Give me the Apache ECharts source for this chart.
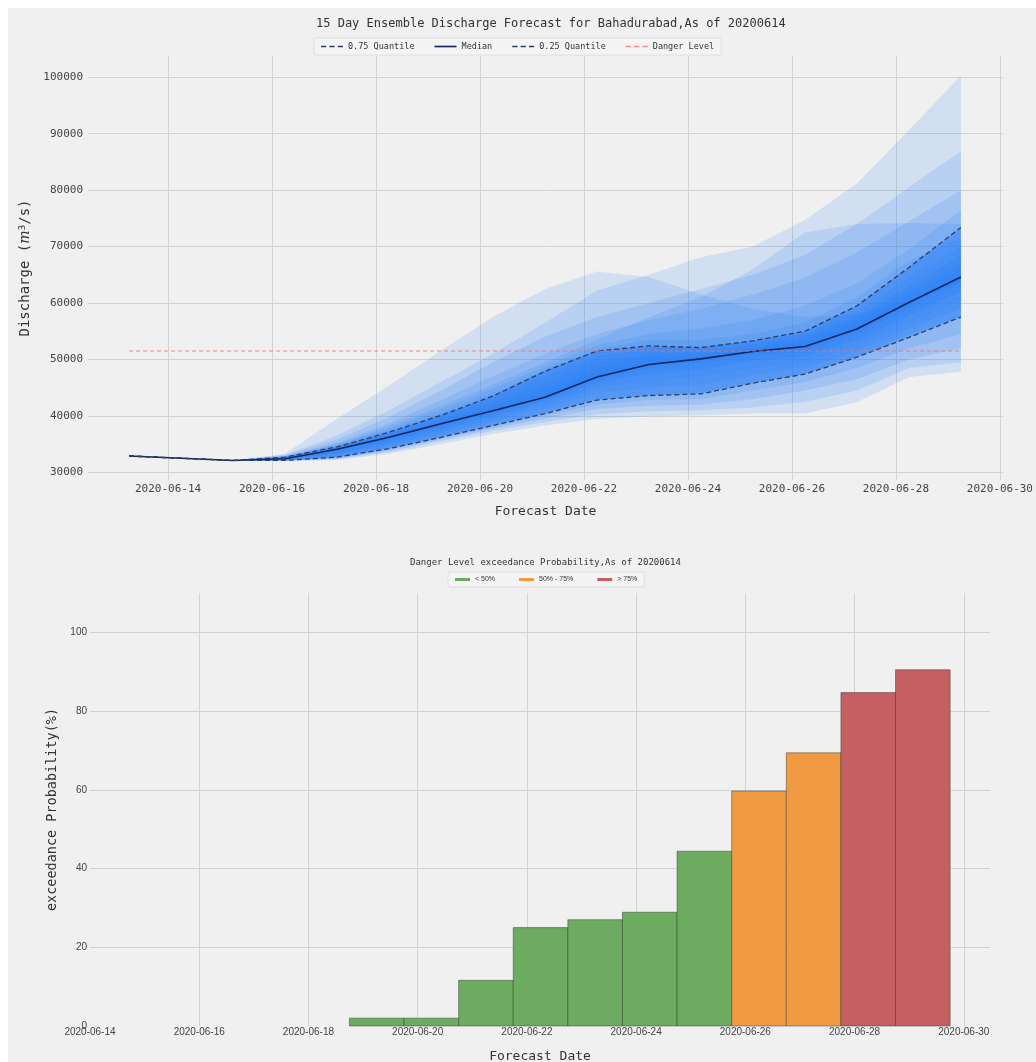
<!DOCTYPE html>
<html>
<head>
<meta charset="utf-8">
<script src="https://cdn.jsdelivr.net/npm/echarts@6/dist/echarts.min.js"></script>
<style>
  html, body { margin: 0; padding: 0; background: #ffffff; }
  #chart { width: 1036px; height: 1062px; }
</style>
</head>
<body>
<div id="chart"></div>
<script>
// ---------- forecast data (Bahadurabad, issued 2020-06-14) ----------
const forecastTimes = [
  '2020-06-13 06:00', '2020-06-14 06:00', '2020-06-15 06:00', '2020-06-16 06:00',
  '2020-06-17 06:00', '2020-06-18 06:00', '2020-06-19 06:00', '2020-06-20 06:00',
  '2020-06-21 06:00', '2020-06-22 06:00', '2020-06-23 06:00', '2020-06-24 06:00',
  '2020-06-25 06:00', '2020-06-26 06:00', '2020-06-27 06:00', '2020-06-28 06:00',
  '2020-06-29 06:00'
];

const medianFlow = [32900, 32500, 32100, 32400, 34100, 36200, 38600, 40900, 43300, 46900, 49100, 50100, 51400, 52300, 55400, 60100, 64600];
const q75Flow    = [32900, 32500, 32100, 32700, 34500, 37100, 40100, 43500, 47900, 51500, 52400, 52100, 53300, 55000, 59500, 66300, 73400];
const q25Flow    = [32900, 32500, 32100, 32100, 32700, 34200, 36200, 38300, 40400, 42800, 43600, 43900, 45800, 47400, 50400, 53900, 57500];
const dangerLevel = 51500;

// ensemble members
const member01 = [32900, 32500, 32100, 33300, 39500, 45400, 51600, 57500, 62500, 65600, 64600, 61500, 59000, 57500, 58000, 60500, 63500];
const member02 = [32900, 32500, 32100, 33100, 36500, 41000, 46000, 51000, 56500, 62200, 65000, 68100, 70000, 74700, 81200, 90600, 100300];
const member03 = [32900, 32500, 32100, 33000, 35800, 39800, 44500, 49500, 54000, 57500, 60000, 62500, 65000, 68500, 74000, 80500, 86900];
const member04 = [32900, 32500, 32100, 32900, 35300, 38700, 42800, 47000, 51000, 54500, 57000, 59000, 61500, 64500, 69000, 74500, 80000];
const member05 = [32900, 32500, 32100, 32800, 35000, 38200, 41800, 45500, 49500, 53500, 57500, 61000, 66000, 72500, 74000, 74200, 74000];
const member06 = [32900, 32500, 32100, 32800, 34900, 37800, 41200, 44800, 48800, 52500, 54500, 55500, 57000, 59500, 63500, 69500, 76500];
const member07 = [32900, 32500, 32100, 32700, 34700, 37400, 40600, 44000, 48200, 51800, 53500, 53500, 54500, 56500, 61000, 67500, 71500];
const member08 = [32900, 32500, 32100, 32600, 34500, 37000, 40000, 43200, 47000, 50500, 52000, 52500, 53000, 54500, 58500, 64500, 70000];
const member09 = [32900, 32500, 32100, 32500, 34400, 36800, 39600, 42500, 45800, 49500, 51000, 51500, 52500, 54000, 57500, 63000, 68500];
const member10 = [32900, 32500, 32100, 32500, 34300, 36600, 39200, 41900, 44800, 48500, 50500, 51000, 52000, 53500, 57000, 62000, 67000];
const member11 = [32900, 32500, 32100, 32400, 34200, 36400, 38900, 41400, 44000, 47800, 49800, 50600, 51800, 53000, 56300, 61200, 66000];
const member12 = [32900, 32500, 32100, 32000, 32200, 33300, 35000, 36800, 38300, 39500, 39900, 40100, 40400, 40400, 42400, 46900, 47800];
const member13 = [32900, 32500, 32100, 32000, 32300, 33600, 35500, 37300, 38900, 40300, 40800, 41000, 41500, 42500, 44500, 48500, 49500];
const member14 = [32900, 32500, 32100, 32000, 32400, 33800, 35800, 37700, 39500, 41200, 41800, 42000, 43000, 44500, 46500, 50000, 52000];
const member15 = [32900, 32500, 32100, 32100, 32500, 34000, 36000, 38000, 40000, 42000, 42800, 43000, 44500, 46000, 48500, 52000, 54500];
const member16 = [32900, 32500, 32100, 32100, 32600, 34200, 36300, 38500, 40600, 43000, 43800, 44200, 46000, 47500, 50500, 54500, 57500];
const member17 = [32900, 32500, 32100, 32200, 32800, 34500, 36700, 39000, 41300, 44000, 45000, 45500, 47200, 48500, 51500, 55500, 59000];
const member18 = [32900, 32500, 32100, 32200, 33000, 34800, 37100, 39500, 42000, 45000, 46300, 47000, 48500, 49500, 52500, 56500, 60500];
const member19 = [32900, 32500, 32100, 32300, 33300, 35200, 37500, 40000, 42500, 45800, 47500, 48300, 49800, 50500, 53500, 57800, 62000];
const member20 = [32900, 32500, 32100, 32300, 33600, 35600, 38000, 40400, 42900, 46300, 48300, 49300, 50600, 51300, 54500, 59000, 63500];
const member21 = [32900, 32500, 32100, 32400, 33900, 35900, 38300, 40600, 43100, 46600, 48800, 49800, 51000, 51800, 55000, 59600, 64000];

const ensembleMembers = [
  member01, member02, member03, member04, member05, member06, member07,
  member08, member09, member10, member11, member12, member13, member14,
  member15, member16, member17, member18, member19, member20, member21
];

// exceedance probability of the danger level (%), per forecast day
const exceedProb = [0, 0, 0, 0, 0, 0, 2.0, 2.0, 11.6, 25.0, 27.0, 28.9, 44.4, 59.7, 69.4, 84.7, 90.5];
const probClasses = ['< 50%', '50% - 75%', '> 75%'];

// axis tick labels (dates) and discharge ticks
const dateTicks = ['2020-06-14', '2020-06-16', '2020-06-18', '2020-06-20', '2020-06-22',
                   '2020-06-24', '2020-06-26', '2020-06-28', '2020-06-30'];
const flowTicks = [30000, 40000, 50000, 60000, 70000, 80000, 90000, 100000];

// ---------- helpers ----------
const DAY = 86400000;
const origin = new Date(2020, 5, 14, 0, 0).getTime();
const toDay = s => (new Date(s.replace(' ', 'T')).getTime() - origin) / DAY;
const pad = n => String(n).padStart(2, '0');
const fmtDate = v => {
  const d = new Date(origin + Math.round(v * DAY));
  return d.getFullYear() + '-' + pad(d.getMonth() + 1) + '-' + pad(d.getDate());
};
const xDays = forecastTimes.map(toDay);
const dateTickDays = dateTicks.map(s => toDay(s + ' 00:00'));

const MONO = 'DejaVu Sans Mono';
const SANS = 'Liberation Sans';
const FAN = 'rgba(28,118,250,';

// legend glyphs: dashed and solid strokes
const DASH_ICON = 'path://M0,0h5v1.4h-5zM8,0h5v1.4h-5zM16,0h5v1.4h-5z';
const SOLID_ICON = 'path://M0,0h21v1.6h-21z';

function bandPolygon(upper, lower, api) {
  const pts = [];
  for (let j = 0; j < xDays.length; j++) pts.push(api.coord([xDays[j], upper[j]]));
  for (let j = xDays.length - 1; j >= 0; j--) pts.push(api.coord([xDays[j], lower[j]]));
  return pts;
}

const lineData = arr => xDays.map((x, i) => [x, arr[i]]);

const barColors = ['#6dab60', '#f09b42', '#c65f61'];
const classOf = v => (v < 50 ? 0 : v <= 75 ? 1 : 2);
const barSeries = probClasses.map((name, c) => ({
  type: 'custom',
  name: name,
  xAxisIndex: 1,
  yAxisIndex: 1,
  color: barColors[c],
  encode: { x: 0, y: 1 },
  data: xDays.map((x, i) => [x, exceedProb[i]]).filter(d => d[1] > 0 && classOf(d[1]) === c),
  renderItem: (params, api) => {
    const t = api.value(0), v = api.value(1);
    const p0 = api.coord([t - 0.5, 0]);
    const p1 = api.coord([t + 0.5, v]);
    return {
      type: 'rect',
      shape: { x: p0[0], y: p1[1], width: p1[0] - p0[0], height: p0[1] - p1[1] },
      style: { fill: barColors[c], stroke: 'rgba(45,50,45,0.5)', lineWidth: 0.9 }
    };
  },
  z: 3
}));

const chart = echarts.init(document.getElementById('chart'), null, { renderer: 'canvas' });

const option = {
  backgroundColor: '#ffffff',
  animation: false,
  graphic: [{
    type: 'rect', silent: true, z: -10,
    shape: { x: 8, y: 8, width: 1028, height: 1054 },
    style: { fill: '#f0f0f0' }
  }],
  title: [
    {
      text: '15 Day Ensemble Discharge Forecast for Bahadurabad,As of 20200614',
      left: 311, top: 13,
      textStyle: { fontFamily: MONO, fontSize: 12, fontWeight: 'normal', color: '#333' }
    },
    {
      text: 'Danger Level exceedance Probability,As of 20200614',
      left: 405, top: 553,
      textStyle: { fontFamily: MONO, fontSize: 9, fontWeight: 'normal', color: '#333' }
    }
  ],
  legend: [
    {
      data: [
        { name: '0.75 Quantile', icon: DASH_ICON },
        { name: 'Median', icon: SOLID_ICON },
        { name: '0.25 Quantile', icon: DASH_ICON },
        { name: 'Danger Level', icon: DASH_ICON }
      ],
      left: 314, top: 38,
      itemWidth: 22, itemHeight: 8, itemGap: 20,
      padding: [4, 7],
      backgroundColor: 'rgba(255,255,255,0.3)',
      borderColor: '#dadada', borderWidth: 0.8, borderRadius: 2,
      textStyle: { fontFamily: MONO, fontSize: 8.5, color: '#333' }
    },
    {
      data: probClasses,
      left: 448, top: 572,
      icon: 'rect',
      itemWidth: 15, itemHeight: 3, itemGap: 24,
      padding: [4, 7],
      backgroundColor: 'rgba(255,255,255,0.3)',
      borderColor: '#dadada', borderWidth: 0.8, borderRadius: 2,
      textStyle: { fontFamily: SANS, fontSize: 7, color: '#333' }
    }
  ],
  grid: [
    { left: 88, right: 33, top: 56, bottom: 582, outerBoundsMode: 'none' },
    { left: 90, right: 46, top: 593, bottom: 36, outerBoundsMode: 'none' }
  ],
  xAxis: [
    {
      type: 'value', gridIndex: 0,
      min: -1.54, max: 16.06,
      name: 'Forecast Date', nameLocation: 'middle', nameGap: 25,
      nameTextStyle: { fontFamily: MONO, fontSize: 13, color: '#333' },
      axisLine: { show: false },
      axisTick: { show: false, customValues: dateTickDays },
      axisLabel: { customValues: dateTickDays, formatter: fmtDate, margin: 4,
                   fontFamily: MONO, fontSize: 11, color: '#444' },
      splitLine: { show: true, customValues: dateTickDays, lineStyle: { color: '#d2d2d2', width: 1 } }
    },
    {
      type: 'value', gridIndex: 1,
      min: 0, max: 16.48, interval: 2,
      name: 'Forecast Date', nameLocation: 'middle', nameGap: 24,
      nameTextStyle: { fontFamily: MONO, fontSize: 13, color: '#333' },
      axisLine: { show: false },
      axisTick: { show: false },
      axisLabel: { formatter: fmtDate, margin: 1, showMaxLabel: false,
                   fontFamily: SANS, fontSize: 10, color: '#444' },
      splitLine: { show: true, showMinLine: false, showMaxLine: false,
                   lineStyle: { color: '#d2d2d2', width: 1 } }
    }
  ],
  yAxis: [
    {
      type: 'value', gridIndex: 0,
      min: 28635, max: 103775,
      name: '{t|Discharge (}{i|m}{s|3}{t|/s)}',
      nameLocation: 'middle', nameGap: 54, nameRotate: 90,
      nameTextStyle: {
        color: '#333',
        rich: {
          t: { fontFamily: MONO, fontSize: 14, color: '#333' },
          i: { fontFamily: 'DejaVu Serif', fontStyle: 'italic', fontSize: 14, color: '#333' },
          s: { fontFamily: 'DejaVu Sans', fontSize: 9, color: '#333', verticalAlign: 'top', padding: [0, 0, 6, 0] }
        }
      },
      axisLine: { show: false },
      axisTick: { show: false, customValues: flowTicks },
      axisLabel: { customValues: flowTicks, formatter: v => String(v), margin: 5,
                   fontFamily: MONO, fontSize: 11, color: '#444' },
      splitLine: { show: true, customValues: flowTicks, lineStyle: { color: '#d2d2d2', width: 1 } }
    },
    {
      type: 'value', gridIndex: 1,
      min: 0, max: 110, interval: 20,
      name: 'exceedance Probability(%)',
      nameLocation: 'middle', nameGap: 30,
      nameTextStyle: { fontFamily: MONO, fontSize: 13.5, color: '#333' },
      axisLine: { show: false },
      axisTick: { show: false },
      axisLabel: { showMaxLabel: false, margin: 3, fontFamily: SANS, fontSize: 10, color: '#444' },
      splitLine: { show: true, showMaxLine: false, showMinLine: false,
                   lineStyle: { color: '#d2d2d2', width: 1 } }
    }
  ],
  series: [
    // ensemble spread: each member filled against the median
    {
      type: 'custom', name: 'ensemble', xAxisIndex: 0, yAxisIndex: 0,
      encode: { x: 0, y: 1 },
      data: ensembleMembers.map((m, k) => [xDays[0], m[0], k]),
      renderItem: (params, api) => ({
        type: 'polygon',
        shape: { points: bandPolygon(ensembleMembers[api.value(2)], medianFlow, api) },
        style: { fill: FAN + '0.14)' }
      }),
      silent: true, z: 1
    },
    // inter-quartile band
    {
      type: 'custom', name: 'iqr', xAxisIndex: 0, yAxisIndex: 0,
      encode: { x: 0, y: 1 },
      data: [[xDays[0], q75Flow[0]]],
      renderItem: (params, api) => ({
        type: 'polygon',
        shape: { points: bandPolygon(q75Flow, q25Flow, api) },
        style: { fill: FAN + '0.42)' }
      }),
      silent: true, z: 1
    },
    {
      type: 'line', name: '0.75 Quantile', xAxisIndex: 0, yAxisIndex: 0,
      data: lineData(q75Flow), symbol: 'none', showSymbol: false,
      color: '#2e3f66',
      lineStyle: { color: '#2e3f66', width: 1.3, type: [5, 3] }, z: 4
    },
    {
      type: 'line', name: 'Median', xAxisIndex: 0, yAxisIndex: 0,
      data: lineData(medianFlow), symbol: 'none', showSymbol: false,
      color: '#15265a',
      lineStyle: { color: '#15265a', width: 1.6 }, z: 4
    },
    {
      type: 'line', name: '0.25 Quantile', xAxisIndex: 0, yAxisIndex: 0,
      data: lineData(q25Flow), symbol: 'none', showSymbol: false,
      color: '#2e3f66',
      lineStyle: { color: '#2e3f66', width: 1.3, type: [5, 3] }, z: 4
    },
    {
      type: 'line', name: 'Danger Level', xAxisIndex: 0, yAxisIndex: 0,
      data: [[xDays[0], dangerLevel], [xDays[xDays.length - 1], dangerLevel]],
      symbol: 'none', showSymbol: false,
      color: 'rgba(240,110,110,0.8)',
      lineStyle: { color: 'rgba(240,110,110,0.8)', width: 1.2, type: [4, 3] }, z: 5
    }
  ].concat(barSeries)
};

chart.setOption(option);
</script>
</body>
</html>
